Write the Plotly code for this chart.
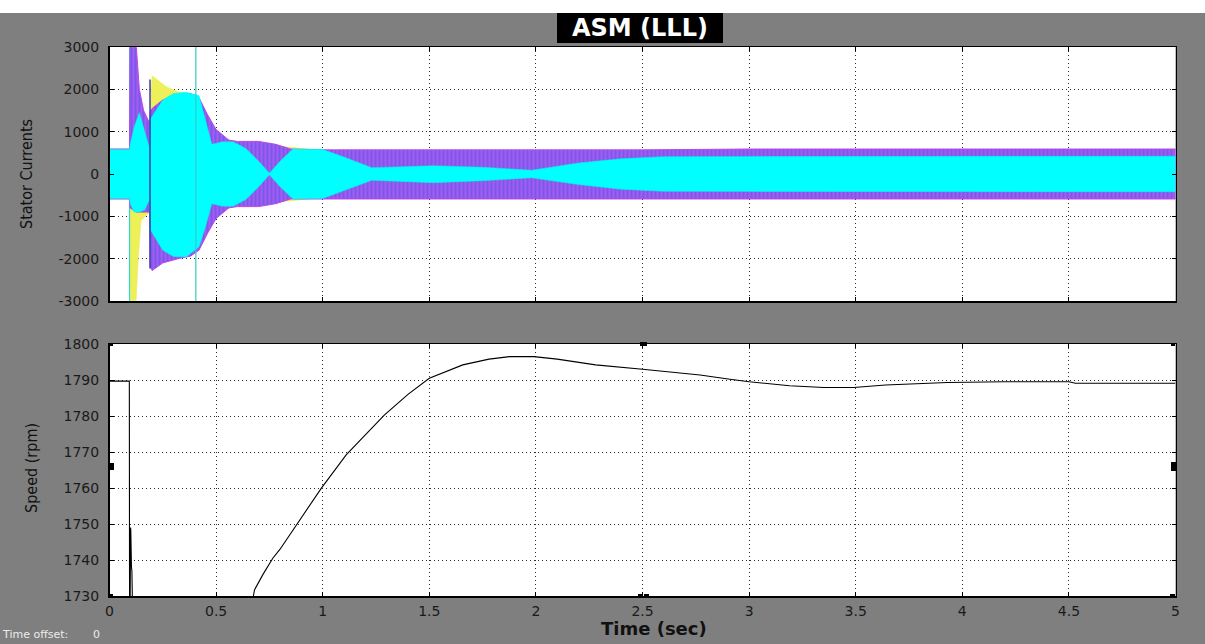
import plotly.graph_objects as go

W, H = 1205, 644

# ---------------- data ----------------
# Stator currents: envelopes of the three phase currents (A)
yel_t  = [0, 0.094, 0.097, 0.125, 0.135, 0.148, 0.19, 0.195, 0.20, 0.23, 0.27, 0.33, 0.38, 0.45, 0.50, 0.60, 1.0, 5.0]
yel_hi = [590, 590, 1200, 1200, 1000, 900, 900, 2000, 2320, 2200, 2050, 1930, 1880, 1300, 900, 750, 560, 560]
yel_lo = [-590, -590, -2990, -2990, -2000, -1100, -900, -1500, -1900, -1900, -1900, -1900, -1850, -1300, -900, -750, -560, -560]

mag_t  = [0, 0.094, 0.096, 0.126, 0.14, 0.16, 0.188, 0.192, 0.20, 0.25, 0.33, 0.38, 0.42, 0.46, 0.50, 0.56, 0.60, 0.70, 0.78, 0.85, 1.0, 2.5, 3.0, 5.0]
mag_hi = [590, 590, 2990, 2990, 2000, 1500, 1200, 1500, 1550, 1750, 1900, 1900, 1800, 1400, 1050, 800, 770, 770, 700, 590, 570, 570, 590, 590]
mag_lo = [-590, -590, -800, -900, -900, -900, -900, -2200, -2280, -2100, -1990, -1940, -1800, -1400, -1050, -800, -770, -770, -700, -590, -575, -575, -590, -590]

cy_t  = [0, 0.094, 0.097, 0.115, 0.14, 0.165, 0.188, 0.192, 0.25, 0.30, 0.36, 0.42, 0.45, 0.48, 0.53, 0.58, 0.64, 0.70, 0.75, 0.80, 0.86, 1.0, 1.10, 1.23, 1.52, 1.75, 1.98, 2.2, 2.4, 2.6, 5.0]
cy_hi = [580, 580, 700, 1100, 1450, 1000, 600, 1300, 1750, 1900, 1930, 1850, 1300, 700, 760, 760, 600, 300, 20, 300, 590, 580, 400, 150, 195, 160, 90, 260, 360, 410, 420]
cy_lo = [-580, -580, -700, -900, -900, -850, -600, -1320, -1800, -1950, -1960, -1720, -1250, -700, -760, -760, -600, -300, -20, -300, -590, -580, -400, -150, -205, -160, -90, -250, -360, -410, -420]

cyan_line_t = [0.094, 0.405]
dark_line_t = 0.19
dark_line_amp = 2230

# Rotor speed (rpm); the dip below the axis floor is off-scale (gap)
speed_t = [0, 0.093, 0.094, 0.097, 0.099, 0.100, 0.103, 0.105, 0.107, 0.40, 0.675, 0.68, 0.72, 0.766, 0.80, 0.876,
           0.993, 1.11, 1.29, 1.40, 1.50, 1.657, 1.78, 1.876, 1.99, 2.10, 2.28, 2.50, 2.77, 2.91, 3.0,
           3.19, 3.35, 3.49, 3.64, 3.93, 4.2, 4.5, 4.53, 5.0]
speed_rpm = [1789.7, 1789.7, 1730, 1730, 1749, 1748, 1738, 1737, 1730, None, 1730, 1731.7, 1736, 1740.5, 1743, 1749.7,
             1759.9, 1769.2, 1780.3, 1786, 1790.5, 1794.2, 1795.8, 1796.5, 1796.5, 1795.8, 1794.2, 1793, 1791.4, 1790.2, 1789.5,
             1788.4, 1787.9, 1787.9, 1788.6, 1789.3, 1789.5, 1789.5, 1789.1, 1789.1]

x_ticks = [0, 0.5, 1, 1.5, 2, 2.5, 3, 3.5, 4, 4.5, 5]
x_tick_text = ["0", "0.5", "1", "1.5", "2", "2.5", "3", "3.5", "4", "4.5", "5"]
cur_ticks = [-3000, -2000, -1000, 0, 1000, 2000, 3000]
cur_tick_text = ["-3000", "-2000", "-1000", "0", "1000", "2000", "3000"]
spd_ticks = [1730, 1740, 1750, 1760, 1770, 1780, 1790, 1800]
spd_tick_text = [str(v) for v in spd_ticks]


def band(t, hi, lo):
    xs = list(t) + list(t)[::-1] + [t[0]]
    ys = list(hi) + list(lo)[::-1] + [hi[0]]
    return xs, ys


def px(x):
    return x / W


def py(y):
    return 1 - y / H


fig = go.Figure()

# yellow phase
bx, by = band(yel_t, yel_hi, yel_lo)
fig.add_trace(go.Scatter(x=bx, y=by, fill="toself", fillcolor="#eef05a",
                         line=dict(color="#e4ec50", width=0.5), mode="lines",
                         hoverinfo="skip", xaxis="x", yaxis="y"))
# cyan vertical at fault start (under magenta)
fig.add_trace(go.Scatter(x=[cyan_line_t[0], cyan_line_t[0]], y=[cur_ticks[0], cur_ticks[-1]],
                         mode="lines", line=dict(color="#30d8d8", width=1.2),
                         hoverinfo="skip", xaxis="x", yaxis="y"))
# magenta phase (striped)
bx, by = band(mag_t, mag_hi, mag_lo)
fig.add_trace(go.Scatter(x=bx, y=by, fill="toself", fillcolor="#9a58f0",
                         fillpattern=dict(shape="|", fgcolor="#4f54dc", bgcolor="#a45cf4",
                                          size=4, solidity=0.5),
                         line=dict(color="#b848e8", width=1), mode="lines",
                         hoverinfo="skip", xaxis="x", yaxis="y"))
# cyan phase
bx, by = band(cy_t, cy_hi, cy_lo)
fig.add_trace(go.Scatter(x=bx, y=by, fill="toself", fillcolor="#00ffff",
                         line=dict(color="#00f4f4", width=0.5), mode="lines",
                         hoverinfo="skip", xaxis="x", yaxis="y"))
# dark blue vertical line
fig.add_trace(go.Scatter(x=[dark_line_t, dark_line_t], y=[-dark_line_amp, dark_line_amp],
                         mode="lines", line=dict(color="#3a3fa8", width=1.5),
                         hoverinfo="skip", xaxis="x", yaxis="y"))
# cyan vertical at fault clearing
fig.add_trace(go.Scatter(x=[cyan_line_t[1], cyan_line_t[1]], y=[cur_ticks[0], cur_ticks[-1]],
                         mode="lines", line=dict(color="#38c8c8", width=1.2),
                         hoverinfo="skip", xaxis="x", yaxis="y"))

# speed
fig.add_trace(go.Scatter(x=speed_t, y=speed_rpm, mode="lines", connectgaps=False,
                         line=dict(color="black", width=1.1),
                         hoverinfo="skip", xaxis="x2", yaxis="y2"))

tick_font = dict(family="DejaVu Sans, Verdana, sans-serif", size=14, color="#1a1a1a")
xdom = [px(109.5), px(1175.5)]

common_x = dict(range=[0, 5], tickvals=x_ticks, ticktext=x_tick_text, ticks="inside", ticklen=4,
                tickcolor="black", showline=True, linecolor="black", linewidth=1.5, mirror="ticks",
                showgrid=True, gridcolor="#2a2a2a", gridwidth=1, griddash="1px,3px",
                zeroline=False, tickfont=tick_font, domain=xdom, automargin=False)
common_y = dict(ticks="inside", ticklen=4, tickcolor="black", showline=True, linecolor="black",
                linewidth=1.5, mirror="ticks", showgrid=True, gridcolor="#2a2a2a", gridwidth=1,
                griddash="1px,3px", zeroline=False, tickfont=tick_font, ticklabelstandoff=6,
                automargin=False)

fig.update_layout(
    width=W, height=H, autosize=False,
    margin=dict(l=0, r=0, t=0, b=0, pad=0),
    paper_bgcolor="#7f7f7f", plot_bgcolor="white", showlegend=False,
    xaxis=dict(anchor="y", showticklabels=False, **common_x),
    yaxis=dict(anchor="x", domain=[py(301), py(47)], range=[-3000, 3000],
               tickvals=cur_ticks, ticktext=cur_tick_text, **common_y),
    xaxis2=dict(anchor="y2", showticklabels=True, ticklabelstandoff=2, **common_x),
    yaxis2=dict(anchor="x2", domain=[py(596), py(344)], range=[1730, 1800],
                tickvals=spd_ticks, ticktext=spd_tick_text, **common_y),
)

shapes = [
    # white strip on top
    dict(type="rect", xref="paper", yref="paper", x0=0, x1=1, y0=py(13), y1=1,
         fillcolor="white", line=dict(width=0), layer="above"),
    # title box
    dict(type="rect", xref="paper", yref="paper", x0=px(557), x1=px(723), y0=py(43), y1=py(13),
         fillcolor="black", line=dict(width=0), layer="above"),
]
# small scope markers on speed plot edges
for (x0, y0, x1, y1) in [(109, 463, 114, 470), (1171, 462, 1176, 471), (640, 342, 647, 346),
                         (638, 594, 643, 598), (644, 594, 649, 598), (109, 343, 113, 346),
                         (109, 594, 113, 598), (1170, 594, 1175, 598), (1171, 343, 1175, 346)]:
    shapes.append(dict(type="rect", xref="paper", yref="paper", x0=px(x0), x1=px(x1),
                       y0=py(y1), y1=py(y0), fillcolor="black", line=dict(width=0), layer="above"))
fig.update_layout(shapes=shapes)

annos = [
    dict(text="<b>ASM (LLL)</b>", x=px(640), y=py(28), xref="paper", yref="paper",
         showarrow=False, xanchor="center", yanchor="middle",
         font=dict(family="DejaVu Sans, Verdana, sans-serif", size=24, color="white")),
    dict(text="Stator Currents", x=px(26), y=py(174), xref="paper", yref="paper",
         showarrow=False, textangle=-90, xanchor="center", yanchor="middle",
         font=dict(family="Liberation Sans Narrow, DejaVu Sans Condensed, Arial Narrow, Liberation Sans, sans-serif",
                   size=16, color="#111111")),
    dict(text="Speed (rpm)", x=px(31), y=py(468), xref="paper", yref="paper",
         showarrow=False, textangle=-90, xanchor="center", yanchor="middle",
         font=dict(family="Liberation Sans Narrow, DejaVu Sans Condensed, Arial Narrow, Liberation Sans, sans-serif",
                   size=16, color="#111111")),
    dict(text="<b>Time (sec)</b>", x=px(654), y=py(628), xref="paper", yref="paper",
         showarrow=False, xanchor="center", yanchor="middle",
         font=dict(family="DejaVu Sans, Verdana, sans-serif", size=18, color="#111111")),
    dict(text="Time offset:", x=px(1), y=py(634), xref="paper", yref="paper",
         showarrow=False, xanchor="left", yanchor="middle", borderpad=0,
         font=dict(family="DejaVu Sans, Verdana, sans-serif", size=11, color="#ececec")),
    dict(text="0", x=px(96), y=py(634), xref="paper", yref="paper",
         showarrow=False, xanchor="center", yanchor="middle", borderpad=0,
         font=dict(family="DejaVu Sans, Verdana, sans-serif", size=11, color="#ececec")),
]
fig.update_layout(annotations=annos)

fig.write_html("out.html",
               config={"displayModeBar": False, "staticPlot": True},
               post_script="document.documentElement.style.margin='0';"
                           "document.documentElement.style.overflow='hidden';"
                           "document.body.style.margin='0';document.body.style.padding='0';"
                           "document.body.style.overflow='hidden';")
